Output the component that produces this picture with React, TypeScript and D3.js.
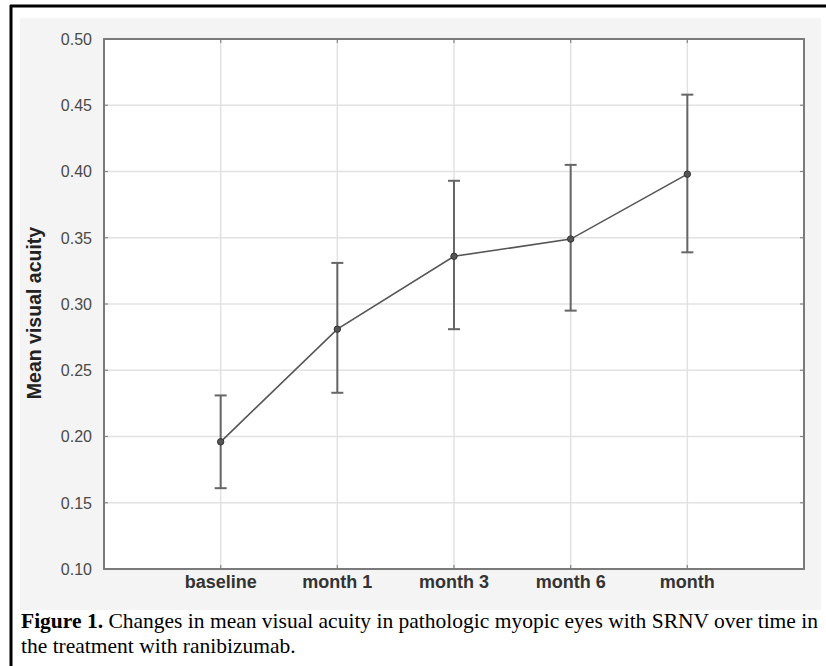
import React, { useMemo } from 'react';
import * as d3 from 'd3';

// values
const categories = ['baseline', 'month 1', 'month 3', 'month 6', 'month'];
const meanAcuity = [0.196, 0.281, 0.336, 0.349, 0.398];
const upperCI = [0.231, 0.331, 0.393, 0.405, 0.458];
const lowerCI = [0.161, 0.233, 0.281, 0.295, 0.339];
const yDomain = [0.1, 0.5];
const yLabel = 'Mean visual acuity';
const captionBold = 'Figure 1.';
const captionLine1 = ' Changes in mean visual acuity in pathologic myopic eyes with SRNV over time in';
const captionLine2 = 'the treatment with ranibizumab.';

const W = 826;
const H = 666;
const plot = { left: 104, right: 804, top: 39, bottom: 569 };

export default function App() {
  // scales
  const x = useMemo(
    () => d3.scalePoint<string>().domain(categories).range([plot.left, plot.right]).padding(1),
    []
  );
  const y = useMemo(
    () => d3.scaleLinear().domain(yDomain).range([plot.bottom, plot.top]),
    []
  );
  const yTicks = y.ticks(8);
  const fmt = d3.format('.2f');

  const points = categories.map((c, i) => ({ c, m: meanAcuity[i], hi: upperCI[i], lo: lowerCI[i] }));
  const linePath = d3
    .line<{ c: string; m: number }>()
    .x((d) => x(d.c) as number)
    .y((d) => y(d.m))(points);

  const capHalf = 6;

  return (
    <svg
      width={W}
      height={H}
      style={{ position: 'absolute', left: 0, top: 0, background: '#fff' }}
    >
      {/* figure background and frame */}
      <rect x={20} y={18} width={801} height={592} fill="#f4f4f4" />
      <line x1={11} x2={11} y1={5} y2={H} stroke="#000" strokeWidth={3} />
      <line x1={10} x2={W} y1={6} y2={6} stroke="#000" strokeWidth={3} />

      {/* plot area */}
      <rect
        x={plot.left}
        y={plot.top}
        width={plot.right - plot.left}
        height={plot.bottom - plot.top}
        fill="#fff"
      />

      {/* grid */}
      {yTicks.map((t) => (
        <line
          key={'gy' + t}
          x1={plot.left}
          x2={plot.right}
          y1={y(t)}
          y2={y(t)}
          stroke="#e2e2e2"
          strokeWidth={1.5}
        />
      ))}
      {categories.map((c) => (
        <line
          key={'gx' + c}
          x1={x(c)}
          x2={x(c)}
          y1={plot.top}
          y2={plot.bottom}
          stroke="#e2e2e2"
          strokeWidth={1.5}
        />
      ))}

      {/* inner tick marks */}
      {yTicks.map((t) => (
        <g key={'ty' + t} stroke="#888" strokeWidth={1.2}>
          <line x1={plot.left} x2={plot.left + 4} y1={y(t)} y2={y(t)} />
          <line x1={plot.right - 4} x2={plot.right} y1={y(t)} y2={y(t)} />
        </g>
      ))}
      {categories.map((c) => (
        <g key={'tx' + c} stroke="#888" strokeWidth={1.2}>
          <line x1={x(c)} x2={x(c)} y1={plot.bottom} y2={plot.bottom - 4} />
          <line x1={x(c)} x2={x(c)} y1={plot.top} y2={plot.top + 4} />
        </g>
      ))}

      {/* plot border */}
      <rect
        x={plot.left}
        y={plot.top}
        width={plot.right - plot.left}
        height={plot.bottom - plot.top}
        fill="none"
        stroke="#7a7a7a"
        strokeWidth={2}
      />

      {/* y tick labels */}
      {yTicks.map((t) => (
        <text
          key={'ly' + t}
          x={92}
          y={y(t)}
          dy="0.36em"
          textAnchor="end"
          fontFamily="Arial, 'Liberation Sans', sans-serif"
          fontSize={16}
          fill="#4a4a4a"
        >
          {fmt(t)}
        </text>
      ))}

      {/* x tick labels */}
      {categories.map((c) => (
        <text
          key={'lx' + c}
          x={x(c)}
          y={588}
          textAnchor="middle"
          fontFamily="Arial, 'Liberation Sans', sans-serif"
          fontWeight="bold"
          fontSize={18}
          fill="#333"
        >
          {c}
        </text>
      ))}

      {/* y axis title */}
      <text
        transform={`translate(41, ${313}) rotate(-90)`}
        textAnchor="middle"
        fontFamily="Arial, 'Liberation Sans', sans-serif"
        fontWeight="bold"
        fontSize={19.5}
        fill="#222"
      >
        {yLabel}
      </text>

      {/* error bars */}
      {points.map((d) => {
        const cx = x(d.c) as number;
        return (
          <g key={'eb' + d.c} stroke="#666" strokeWidth={2}>
            <line x1={cx} x2={cx} y1={y(d.lo)} y2={y(d.hi)} />
            <line x1={cx - capHalf} x2={cx + capHalf} y1={y(d.hi)} y2={y(d.hi)} />
            <line x1={cx - capHalf} x2={cx + capHalf} y1={y(d.lo)} y2={y(d.lo)} />
          </g>
        );
      })}

      {/* mean line */}
      <path d={linePath || ''} fill="none" stroke="#555" strokeWidth={1.6} />
      {points.map((d) => (
        <circle
          key={'pt' + d.c}
          cx={x(d.c)}
          cy={y(d.m)}
          r={3.2}
          fill="#555"
          stroke="#333"
          strokeWidth={1}
        />
      ))}

      {/* caption */}
      <text
        x={21}
        y={628}
        fontFamily="'Times New Roman', 'Liberation Serif', serif"
        fontSize={21.5}
        fill="#000"
      >
        <tspan fontWeight="bold">{captionBold}</tspan>
        <tspan>{captionLine1}</tspan>
      </text>
      <text
        x={21}
        y={653}
        fontFamily="'Times New Roman', 'Liberation Serif', serif"
        fontSize={21.5}
        fill="#000"
      >
        {captionLine2}
      </text>
    </svg>
  );
}
